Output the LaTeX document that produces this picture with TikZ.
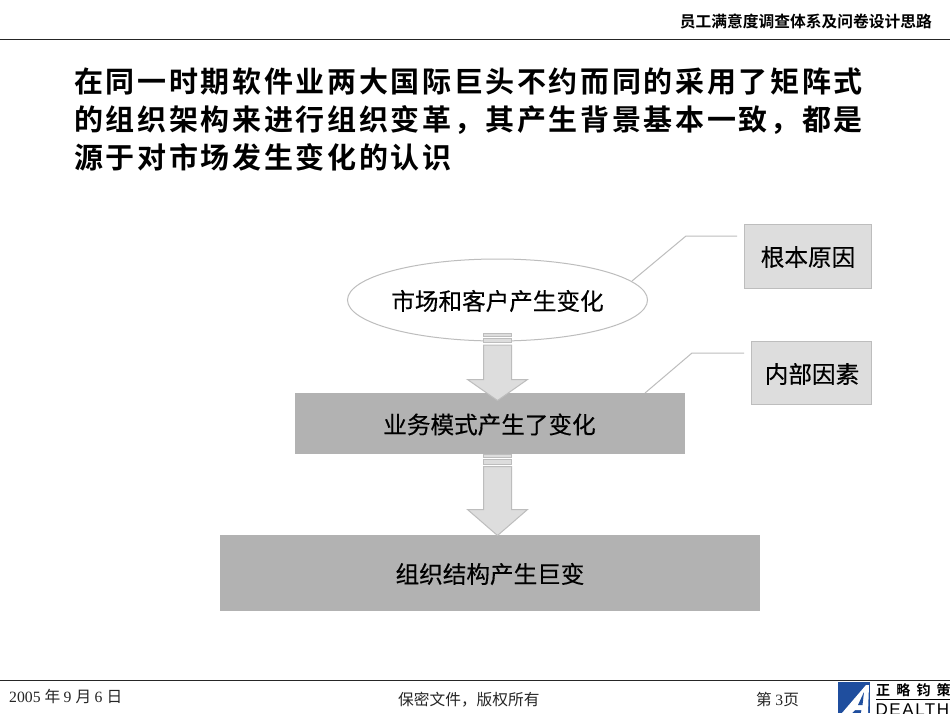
\documentclass[tikz,border=0pt]{standalone}
\usepackage{fontspec}
\setmainfont{Liberation Serif}
\newfontfamily\cjk{Noto Sans CJK SC}
\newfontfamily\cjkm[FakeBold=0.35]{Noto Sans CJK SC}
\newfontfamily\cjkb{Noto Sans CJK SC Bold}
\newfontfamily\cjkt[LetterSpace=9.15]{Noto Sans CJK SC Bold}
\newfontfamily\cjkl[LetterSpace=44]{Noto Sans CJK SC Bold}
\newfontfamily\logolatin[LetterSpace=9]{Liberation Sans}
\definecolor{lightbox}{HTML}{DDDDDD}
\definecolor{edgegrey}{HTML}{BDBDBD}
\definecolor{midbox}{HTML}{B2B2B2}
\definecolor{logoblue}{HTML}{1F4E9E}
\tikzset{
  titleline/.style={anchor=base west,inner sep=0pt,font=\cjkt\fontsize{29}{29}\selectfont},
  label/.style={inner sep=0pt,font=\cjkm\fontsize{23.6}{24}\selectfont,text=black},
  tagbox/.style={draw=edgegrey,fill=lightbox,line width=1pt},
  bandbox/.style={fill=midbox},
  oval/.style={ellipse,draw=edgegrey,line width=1pt},
  callout/.style={draw=edgegrey,line width=1pt},
  blockpart/.style={draw=edgegrey,fill=lightbox,line width=1pt},
  rulerline/.style={draw=black!85,line width=1pt},
  foot/.style={anchor=base west,inner sep=0pt,font=\fontsize{15.7}{16}\selectfont,text=black!85}
}
\usetikzlibrary{shapes.geometric}
\begin{document}
\begin{tikzpicture}[x=1pt,y=-1pt]
\useasboundingbox (0,0) rectangle (950,713);
\fill[white] (0,0) rectangle (950,713);
% rules
\coordinate (hl) at (0,39.7); \coordinate (hr) at (950,39.7);
\coordinate (fl) at (0,680.7); \coordinate (fr) at (950,680.7);
\draw[rulerline] (hl) -- (hr);
\draw[rulerline] (fl) -- (fr);
\node[anchor=base east,inner sep=0pt,font=\cjkb\fontsize{15.75}{16}\selectfont] (head) at (932,27) {员工满意度调查体系及问卷设计思路};
% title
\node[titleline] (t1) at (74,92) {在同一时期软件业两大国际巨头不约而同的采用了矩阵式};
\node[titleline] (t2) at (74,130) {的组织架构来进行组织变革，其产生背景基本一致，都是};
\node[titleline] (t3) at (74,168) {源于对市场发生变化的认识};
% shapes
\node[oval,minimum width=300pt,minimum height=82pt] (mkt) at (497.5,300) {};
\node[bandbox,minimum width=390pt,minimum height=61pt] (biz) at (490,423.5) {};
\node[bandbox,minimum width=540pt,minimum height=76pt] (org) at (490,573) {};
\node[tagbox,minimum width=127pt,minimum height=64pt] (root) at (808,256) {};
\node[tagbox,minimum width=120pt,minimum height=63pt] (inner) at (811.5,372.5) {};
\node[label] (mktt) at (497.5,301) {市场和客户产生变化};
\node[label] (bizt) at (489.5,424.5) {业务模式产生了变化};
\node[label] (orgt) at (490,574) {组织结构产生巨变};
\node[label] (roott) at (808,257) {根本原因};
\node[label] (innert) at (812,374) {内部因素};
% callouts
\coordinate (c1a) at (632,281); \coordinate (c1b) at (686,236); \coordinate (c1c) at (737,236);
\coordinate (c2a) at (645,393); \coordinate (c2b) at (692,353); \coordinate (c2c) at (744,353);
\draw[callout] (c1a) -- (c1b) -- (c1c);
\draw[callout] (c2a) -- (c2b) -- (c2c);
% block arrows
\path[blockpart] (483.5,333.5) rectangle (511.5,336);
\path[blockpart] (483.5,338) rectangle (511.5,342);
\path[blockpart] (483.5,345) -- (511.5,345) -- (511.5,379.5) -- (527.5,379.5) -- (497.5,400.5) -- (467.5,379.5) -- (483.5,379.5) -- cycle;
\path[blockpart] (483.5,454.5) rectangle (511.5,457);
\path[blockpart] (483.5,459) rectangle (511.5,464);
\path[blockpart] (483.5,466.5) -- (511.5,466.5) -- (511.5,509.5) -- (527.5,509.5) -- (497.5,535.5) -- (467.5,509.5) -- (483.5,509.5) -- cycle;
% footer
\node[foot] (date) at (9,702) {2005 \cjk 年 \rmfamily 9 \cjk 月 \rmfamily 6 \cjk 日};
\node[anchor=base west,inner sep=0pt,font=\cjk\fontsize{15.7}{16}\selectfont,text=black!85] (conf) at (398,705) {保密文件，版权所有};
\node[foot] (page) at (756,705) {\cjk 第 \rmfamily 3\cjk 页};
% logo
\begin{scope}
\clip (830,682) rectangle (950,713);
\fill[logoblue] (838,682) rectangle (870,713);
\fill[white] (842,713) -- (866,685) -- (869,685) -- (868,713) -- (861,713) -- (861.5,710) -- (855,710) -- (852,713) -- cycle;
\fill[logoblue] (858,705) -- (862.5,705) -- (864,692) -- cycle;
\draw[black,line width=1pt] (876,699) -- (950,699);
\node[anchor=base west,inner sep=0pt,font=\cjkl\fontsize{14}{14}\selectfont] (cn) at (876,695.5) {正略钧策};
\node[anchor=base west,inner sep=0pt,font=\logolatin\fontsize{17}{17}\selectfont] (en) at (875.5,715) {DEALTH};
\end{scope}
\end{tikzpicture}
\end{document}
